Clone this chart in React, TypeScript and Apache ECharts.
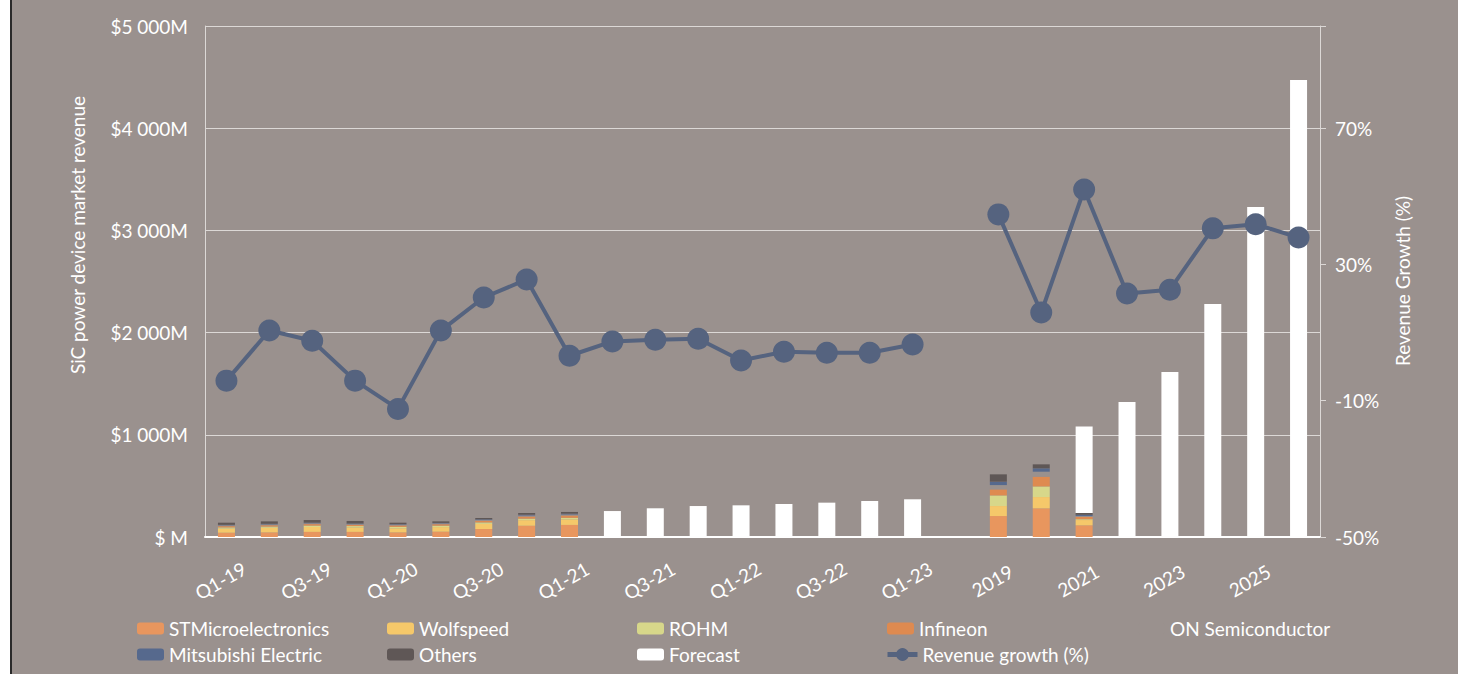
import React, { useEffect, useRef } from 'react';
import * as echarts from 'echarts';

const categories = ['Q1-19','Q2-19','Q3-19','Q4-19','Q1-20','Q2-20','Q3-20','Q4-20','Q1-21','Q2-21','Q3-21','Q4-21','Q1-22','Q2-22','Q3-22','Q4-22','Q1-23','','2019','2020','2021','2022','2023','2024','2025','2026'];

const N = null;
const stMicro =   [42,45,50,50,45,52,78,110,118, N,N,N,N,N,N,N,N, N, 205,280,114, N,N,N,N,N];
const wolfspeed = [40,45,48,44,40,45,50,55,55,   N,N,N,N,N,N,N,N, N, 98,111,52,   N,N,N,N,N];
const rohm =      [12,12,14,13,14,14,15,15,15,   N,N,N,N,N,N,N,N, N, 104,104,8,   N,N,N,N,N];
const infineon =  [12,13,14,12,14,14,15,20,22,   N,N,N,N,N,N,N,N, N, 59,95,23,    N,N,N,N,N];
const onSemi =    [8,8,8,7,8,8,9,10,10,          N,N,N,N,N,N,N,N, N, 42,49,8,     N,N,N,N,N];
const mitsubishi =[5,6,6,6,5,5,6,8,8,            N,N,N,N,N,N,N,N, N, 33,33,12,    N,N,N,N,N];
const others =    [21,24,26,25,14,15,13,17,17,   N,N,N,N,N,N,N,N, N, 72,39,18,    N,N,N,N,N];
const forecast =  [N,N,N,N,N,N,N,N,N, 254,281,303,310,323,336,352,369, N, N,N,845,1321,1615,2280,3229,4472];
const growth = [-4.1,10.6,7.6,-4.1,-12.4,10.6,20.3,25.6,3.2,7.4,7.9,8.2,1.8,4.4,4.1,4.1,6.5, N, 44.7,15.9,52,21.5,22.6,40.6,41.8,37.9];

const BG = '#9a918e';
const FONT = 'Lato';
const FS = 19;

const colors: Record<string, string> = {
  'STMicroelectronics': '#e8965e',
  'Wolfspeed': '#f5c86a',
  'ROHM': '#d7d78a',
  'Infineon': '#de8a50',
  'ON Semiconductor': BG,
  'Mitsubishi Electric': '#56698d',
  'Others': '#5f5756',
  'Forecast': '#ffffff',
  'Revenue growth (%)': '#55637f',
};

const barSeries: [string, (number | null)[]][] = [
  ['STMicroelectronics', stMicro],
  ['Wolfspeed', wolfspeed],
  ['ROHM', rohm],
  ['Infineon', infineon],
  ['ON Semiconductor', onSemi],
  ['Mitsubishi Electric', mitsubishi],
  ['Others', others],
  ['Forecast', forecast],
];

const legendPos: [string, number, number][] = [
  ['STMicroelectronics', 137, 619],
  ['Wolfspeed', 387, 619],
  ['ROHM', 637, 619],
  ['Infineon', 887, 619],
  ['ON Semiconductor', 1138, 619],
  ['Mitsubishi Electric', 137, 645],
  ['Others', 387, 645],
  ['Forecast', 637, 645],
  ['Revenue growth (%)', 885, 645],
];

export default function App() {
  const ref = useRef<HTMLDivElement>(null);
  useEffect(() => {
    const chart = echarts.init(ref.current!, null, { renderer: 'svg' });
    const series: any[] = barSeries.map(([name, data]) => ({
      name,
      type: 'bar',
      stack: 'total',
      data,
      barWidth: 17,
      itemStyle: { color: colors[name] },
      yAxisIndex: 0,
    }));
    series.push({
      name: 'Revenue growth (%)',
      type: 'line',
      data: growth,
      yAxisIndex: 1,
      connectNulls: false,
      symbol: 'circle',
      symbolSize: 22,
      z: 5,
      lineStyle: { color: colors['Revenue growth (%)'], width: 4 },
      itemStyle: { color: colors['Revenue growth (%)'] },
    });
    const legends = legendPos.map(([name, left, top]) => {
      const isLine = name === 'Revenue growth (%)';
      const l: any = {
        data: [name],
        left,
        top,
        padding: 0,
        itemWidth: isLine ? 30 : 27,
        itemHeight: isLine ? 16 : 12,
        textStyle: { color: '#ffffff', fontSize: FS, fontFamily: FONT },
        selectedMode: false,
      };
      if (isLine) l.lineStyle = { width: 5 };
      return l;
    });
    chart.setOption({
      animation: false,
      backgroundColor: BG,
      textStyle: { fontFamily: FONT },
      grid: { left: 205, right: 138, top: 26, bottom: 137, containLabel: false },
      legend: legends,
      xAxis: {
        type: 'category',
        data: categories,
        axisLine: { lineStyle: { color: '#ffffff', width: 2 } },
        axisTick: { show: false },
        axisLabel: {
          color: '#ffffff', fontSize: FS, fontFamily: FONT, interval: 1, rotate: 30,
          align: 'center', verticalAlign: 'middle', margin: 40, padding: [0, 14, 0, 0],
        },
      },
      yAxis: [
        {
          type: 'value', min: 0, max: 5000, interval: 1000,
          axisLine: { show: true, lineStyle: { color: '#dcd8d6', width: 1 } },
          axisTick: { show: false },
          splitLine: { lineStyle: { color: '#dcd8d6', width: 1 } },
          axisLabel: {
            color: '#ffffff', fontSize: FS, fontFamily: FONT, margin: 17,
            formatter: (v: number) => (v === 0 ? '$ M' : '$' + v / 1000 + ' 000M'),
          },
        },
        {
          type: 'value', min: -50, max: 100, interval: 40, position: 'right',
          axisLine: { show: true, lineStyle: { color: '#dcd8d6', width: 1 } },
          axisTick: { show: true, length: 6, lineStyle: { color: '#dcd8d6' } },
          splitLine: { show: false },
          axisLabel: {
            color: '#ffffff', fontSize: FS, fontFamily: FONT, margin: 15,
            formatter: (v: number) => (v > 90 ? '' : v + '%'),
          },
        },
      ],
      graphic: [
        { type: 'rect', shape: { x: 0, y: 0, width: 10, height: 674 }, style: { fill: '#ffffff' }, silent: true },
        { type: 'rect', shape: { x: 10, y: 0, width: 2, height: 674 }, style: { fill: '#2a2a2a' }, silent: true },
        {
          type: 'text', x: 77, y: 235, rotation: Math.PI / 2, silent: true,
          style: { text: 'SiC power device market revenue', fill: '#ffffff', font: `${FS}px ${FONT}`, align: 'center', verticalAlign: 'middle' },
        },
        {
          type: 'text', x: 1402, y: 281, rotation: Math.PI / 2, silent: true,
          style: { text: 'Revenue Growth (%)', fill: '#ffffff', font: `${FS}px ${FONT}`, align: 'center', verticalAlign: 'middle' },
        },
      ],
      series,
    });
    return () => chart.dispose();
  }, []);
  return <div ref={ref} style={{ position: 'fixed', left: 0, top: 0, width: 1458, height: 674 }} />;
}
